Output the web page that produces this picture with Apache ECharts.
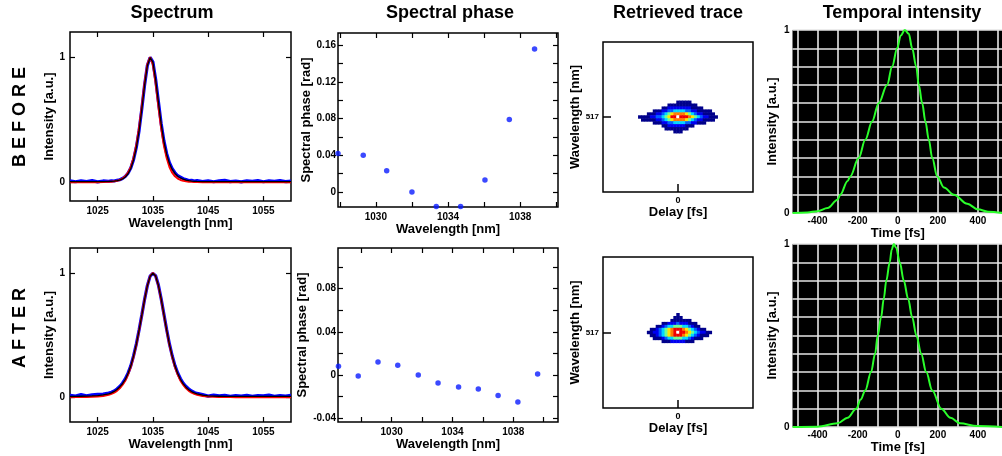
<!DOCTYPE html>
<html><head><meta charset="utf-8">
<script src="https://cdn.jsdelivr.net/npm/echarts@6/dist/echarts.min.js"></script>
<style>html,body{margin:0;padding:0;background:#fff}#c{width:1002px;height:456px}</style>
</head><body><div id="c"></div>
<script>
// ---------------- DATA ----------------
const specWl = [1020,1021,1022,1023,1024,1025,1026,1027,1027.5,1028,1028.5,1029,1029.5,1030,1030.5,1031,1031.5,1032,1032.5,1033,1033.5,1034,1034.5,1035,1035.5,1036,1036.5,1037,1037.5,1038,1038.5,1039,1039.5,1040,1040.5,1041,1041.5,1042,1042.5,1043,1044,1045,1046,1047,1048,1049,1050,1051,1052,1053,1054,1055,1056,1057,1058,1059,1060];
const specRawBefore = [0.012,0.004,0.011,0.006,0.013,0.003,0.01,0.007,0.012,0.01,0.016,0.02,0.03,0.046,0.072,0.113,0.18,0.278,0.412,0.588,0.777,0.932,0.997,0.962,0.823,0.645,0.47,0.33,0.228,0.156,0.108,0.076,0.052,0.04,0.028,0.022,0.014,0.016,0.009,0.013,0.006,0.012,0.004,0.011,0.015,0.005,0.01,0.003,0.012,0.008,0.014,0.004,0.011,0.007,0.013,0.005,0.009];
const specMeasBefore = [0.004,0.004,0.004,0.004,0.004,0.004,0.005,0.006,0.007,0.009,0.012,0.017,0.026,0.042,0.068,0.11,0.178,0.275,0.41,0.585,0.775,0.93,0.995,0.96,0.82,0.64,0.465,0.325,0.222,0.15,0.102,0.07,0.048,0.034,0.024,0.017,0.012,0.009,0.007,0.006,0.005,0.005,0.005,0.005,0.005,0.005,0.005,0.005,0.005,0.005,0.005,0.005,0.005,0.005,0.005,0.005,0.005];
const specFitBefore = [0,0,0,0,0,0,0.001,0.003,0.004,0.007,0.011,0.018,0.029,0.047,0.076,0.121,0.193,0.293,0.433,0.608,0.794,0.942,1.0,0.942,0.794,0.608,0.433,0.293,0.193,0.121,0.076,0.047,0.029,0.018,0.011,0.007,0.004,0.003,0.002,0.001,0,0,0,0,0,0,0,0,0,0,0,0,0,0,0,0,0];
const specRawAfter = [0.015,0.008,0.02,0.01,0.018,0.022,0.025,0.033,0.04,0.05,0.066,0.086,0.112,0.146,0.193,0.252,0.332,0.427,0.54,0.662,0.787,0.897,0.974,0.996,0.977,0.902,0.792,0.667,0.542,0.428,0.333,0.254,0.194,0.148,0.112,0.086,0.066,0.05,0.038,0.03,0.02,0.008,0.016,0.01,0.014,0.006,0.012,0.009,0.015,0.007,0.013,0.01,0.016,0.006,0.012,0.009,0.014];
const specMeasAfter = [0.005,0.006,0.007,0.008,0.01,0.013,0.018,0.027,0.035,0.046,0.061,0.082,0.108,0.142,0.19,0.25,0.33,0.425,0.538,0.66,0.785,0.895,0.972,0.998,0.975,0.9,0.79,0.665,0.54,0.425,0.33,0.25,0.19,0.142,0.107,0.08,0.06,0.045,0.034,0.026,0.016,0.011,0.008,0.007,0.006,0.006,0.006,0.006,0.006,0.006,0.006,0.006,0.006,0.006,0.006,0.006,0.006];
const specFitAfter = [0,0.001,0.001,0.002,0.003,0.005,0.01,0.019,0.027,0.037,0.051,0.071,0.098,0.132,0.181,0.243,0.324,0.42,0.535,0.66,0.786,0.897,0.973,1.0,0.973,0.897,0.786,0.66,0.535,0.42,0.324,0.243,0.181,0.132,0.098,0.071,0.051,0.037,0.027,0.019,0.01,0.005,0.003,0.002,0.001,0.001,0,0,0,0,0,0,0,0,0,0,0];
const specXTicks = [1025,1035,1045,1055];
const specYTicks = [0,1];

const phaseWlBefore = [1027.9,1029.3,1030.6,1032.0,1033.35,1034.7,1036.05,1037.4,1038.8];
const phaseBefore = [0.042,0.040,0.023,0.000,-0.016,-0.016,0.013,0.079,0.156];
const phaseWlAfter = [1026.5,1027.8,1029.1,1030.4,1031.75,1033.05,1034.4,1035.7,1037.0,1038.3,1039.6];
const phaseAfter = [0.008,-0.001,0.012,0.009,0.000,-0.0075,-0.011,-0.013,-0.019,-0.025,0.001];
const phaseXLabels = [1030,1034,1038];
const phaseXTicks = [1028,1030,1032,1034,1036,1038,1040];
const phaseYLabelsBefore = [0,0.04,0.08,0.12,0.16];
const phaseYTicksBefore = [0,0.02,0.04,0.06,0.08,0.1,0.12,0.14,0.16];
const phaseYLabelsAfter = [-0.04,0,0.04,0.08];
const phaseYTicksAfter = [-0.04,-0.02,0,0.02,0.04,0.06,0.08,0.1];

// retrieved FROG traces: intensity level (1..9) per cell, '.' = empty
// rows top->bottom, columns: delay bins -13..+13 around the centre
const traceDelayLabel = '0';
const traceWlLabel = '517';
const traceBeforeTopRow = -5;
const traceBefore = [
 '.............11111.........',
 '..........1111111111.......',
 '........11222222221111.....',
 '.....11122334444332211111..',
 '...11122345677776543221111.',
 '111122334568898887654322111',
 '.1111122345677776543221111.',
 '.....111223344443322111....',
 '........11222222111........',
 '.........11111111..........',
 '............111............'
];
const traceAfterTopRow = -6;
const traceAfter = [
 '.............1.............',
 '............111............',
 '...........1111111.........',
 '........112223222111.......',
 '......112344555443211......',
 '....1123456788876543211....',
 '...1122345678988765432211..',
 '....11234567888765432111...',
 '.....11123445554432111.....',
 '........11122222111........'
];

const tempTimeBefore = [-525,-450,-400,-350,-300,-287,-250,-237,-195,-162,-128,-95,-53,-28,-3,15,35,55,72,92,105,122,138,155,172,197,230,280,347,400,450,525];
const tempIntBefore = [0,0.003,0.01,0.027,0.072,0.1,0.175,0.2,0.3,0.4,0.5,0.6,0.7,0.8,0.9,0.97,1.0,0.98,0.9,0.8,0.7,0.6,0.5,0.4,0.3,0.2,0.14,0.1,0.05,0.02,0.007,0];
const tempTimeAfter = [-525,-400,-300,-250,-207,-185,-162,-133,-113,-100,-83,-70,-57,-40,-30,-20,-8,10,30,52,72,93,117,142,172,217,263,310,397,525];
const tempIntAfter = [0,0.002,0.02,0.05,0.1,0.15,0.2,0.3,0.4,0.5,0.6,0.7,0.8,0.9,0.97,1.0,0.98,0.9,0.8,0.7,0.6,0.5,0.4,0.3,0.2,0.1,0.05,0.02,0.005,0];
const tempXLabels = [-400,-200,0,200,400];
const tempXGrid = [-500,-400,-300,-200,-100,0,100,200,300,400,500];
const tempYLabels = [0,1];

// ---------------- BUILD ----------------
const FONT = '"Liberation Sans", Arial, Helvetica, sans-serif';
const TXT = {color:'#000', fontFamily:FONT, fontWeight:'bold'};
const zip = (xs, ys) => xs.map((x,i)=>[x, ys[i]]);
const bins = Array.from({length:51}, (_,i)=>String(i-25));
const CENTER = 25;
function heat(rows, top){
  const out = [];
  rows.forEach((s,k)=>{
    const r = top + k;
    for (let j=0;j<s.length;j++){
      const ch = s[j];
      if (ch !== '.') out.push([CENTER + (j-13), CENTER - r, +ch]);
    }
  });
  return out;
}
const fmtPhase = v => (Math.abs(v) < 1e-9 ? '0' : v.toFixed(2));

const gridBase = {show:true, borderColor:'#000', borderWidth:1.5, containLabel:false, outerBoundsMode:'none'};
const grids = [
  Object.assign({left:70, top:32, width:221, height:169}, gridBase),
  Object.assign({left:338, top:33, width:220, height:174}, gridBase),
  Object.assign({left:603, top:42, width:150, height:150}, gridBase),
  Object.assign({left:792.5, top:30, width:210.5, height:183}, gridBase, {backgroundColor:'#000', borderWidth:0}),
  Object.assign({left:70, top:248, width:221, height:174}, gridBase),
  Object.assign({left:338, top:248, width:220, height:174}, gridBase),
  Object.assign({left:603, top:257, width:150, height:151}, gridBase),
  Object.assign({left:792.5, top:244, width:210.5, height:183}, gridBase, {backgroundColor:'#000', borderWidth:0})
];

const tickStyle = {color:'#000', width:1.2};
const noLine = {show:false, onZero:false};
function vAxis(o){
  return Object.assign({type:'value', axisLine:noLine, splitLine:{show:false}}, o);
}
function boxedX(gi, min, max, labels, ticks, fmt){
  return [
    vAxis({gridIndex:gi, min, max, position:'bottom',
      axisTick:{show:true, inside:true, length:5, customValues:ticks, lineStyle:tickStyle},
      axisLabel:Object.assign({customValues:labels, margin:5, fontSize:10, formatter:fmt}, TXT),
      name:'Wavelength [nm]', nameLocation:'middle', nameGap:15,
      nameTextStyle:Object.assign({fontSize:13}, TXT)}),
    vAxis({gridIndex:gi, min, max, position:'top',
      axisTick:{show:true, inside:true, length:5, customValues:ticks, lineStyle:tickStyle},
      axisLabel:{show:false}})
  ];
}
function boxedY(gi, min, max, labels, ticks, fmt, name, gap, margin){
  return [
    vAxis({gridIndex:gi, min, max, position:'left',
      axisTick:{show:true, inside:true, length:5, customValues:ticks, lineStyle:tickStyle},
      axisLabel:Object.assign({customValues:labels, margin:margin, fontSize:10, formatter:fmt}, TXT),
      name:name, nameLocation:'middle', nameGap:gap,
      nameTextStyle:Object.assign({fontSize:13}, TXT)}),
    vAxis({gridIndex:gi, min, max, position:'right',
      axisTick:{show:true, inside:true, length:5, customValues:ticks, lineStyle:tickStyle},
      axisLabel:{show:false}})
  ];
}
function traceX(gi){
  return {type:'category', gridIndex:gi, data:bins, axisLine:noLine, splitLine:{show:false},
    axisTick:{show:true, inside:true, length:8, alignWithLabel:true, interval:(i)=>i===CENTER, lineStyle:{color:'#000', width:1.5}},
    axisLabel:Object.assign({interval:(i)=>i===CENTER, formatter:()=>traceDelayLabel, margin:4, fontSize:9}, TXT),
    name:'Delay [fs]', nameLocation:'middle', nameGap:14, nameTextStyle:Object.assign({fontSize:13}, TXT)};
}
function traceY(gi){
  return {type:'category', gridIndex:gi, data:bins, axisLine:noLine, splitLine:{show:false},
    axisTick:{show:true, inside:true, length:8, alignWithLabel:true, interval:(i)=>i===CENTER, lineStyle:{color:'#000', width:1.5}},
    axisLabel:Object.assign({interval:(i)=>i===CENTER, formatter:()=>traceWlLabel, margin:4, fontSize:8}, TXT),
    name:'Wavelength [nm]', nameLocation:'middle', nameGap:21, nameTextStyle:Object.assign({fontSize:13}, TXT)};
}
const whiteLine = {show:true, lineStyle:{color:'#e6e6e6', width:1.6}};
function tempX(gi){
  return vAxis({gridIndex:gi, min:-525, max:525,
    axisTick:{show:false, customValues:tempXGrid}, splitLine:whiteLine,
    axisLabel:Object.assign({customValues:tempXLabels, margin:3, fontSize:10}, TXT),
    name:'Time [fs]', nameLocation:'middle', nameGap:14, nameTextStyle:Object.assign({fontSize:13}, TXT)});
}
function tempY(gi){
  return vAxis({gridIndex:gi, min:0, max:1, interval:0.1,
    axisTick:{show:false}, splitLine:whiteLine,
    axisLabel:Object.assign({customValues:tempYLabels, margin:3, fontSize:10}, TXT),
    name:'Intensity [a.u.]', nameLocation:'middle', nameGap:14, nameTextStyle:Object.assign({fontSize:13}, TXT)});
}

const specFmt = v => String(v);
const xAxes = [
  ...boxedX(0, 1020, 1060, specXTicks, specXTicks, specFmt),          // 0,1
  ...boxedX(1, 1027.9, 1040.1, phaseXLabels, phaseXTicks, specFmt),   // 2,3
  traceX(2),                                                           // 4
  tempX(3),                                                            // 5
  ...boxedX(4, 1020, 1060, specXTicks, specXTicks, specFmt),          // 6,7
  ...boxedX(5, 1026.47, 1040.94, phaseXLabels, phaseXTicks, specFmt), // 8,9
  traceX(6),                                                           // 10
  tempX(7)                                                             // 11
];
const yAxes = [
  ...boxedY(0, -0.15, 1.2, specYTicks, specYTicks, specFmt, 'Intensity [a.u.]', 13, 5),
  ...boxedY(1, -0.0165, 0.1735, phaseYLabelsBefore, phaseYTicksBefore, fmtPhase, 'Spectral phase [rad]', 24, 2),
  traceY(2),
  tempY(3),
  ...boxedY(4, -0.2, 1.2, specYTicks, specYTicks, specFmt, 'Intensity [a.u.]', 13, 5),
  ...boxedY(5, -0.0435, 0.1175, phaseYLabelsAfter, phaseYTicksAfter, fmtPhase, 'Spectral phase [rad]', 24, 2),
  traceY(6),
  tempY(7)
];

function specSeries(xi, yi, raw, fit, meas){
  const base = {type:'line', xAxisIndex:xi, yAxisIndex:yi, showSymbol:false, symbol:'none', silent:true};
  return [
    Object.assign({}, base, {data:zip(specWl, raw), lineStyle:{color:'#0000ff', width:3.2}, itemStyle:{color:'#0000ff'}, z:2}),
    Object.assign({}, base, {data:zip(specWl, fit), lineStyle:{color:'#ff0000', width:2}, itemStyle:{color:'#ff0000'}, z:3}),
    Object.assign({}, base, {data:zip(specWl, meas), lineStyle:{color:'#000000', width:1.3}, itemStyle:{color:'#000'}, z:4})
  ];
}
function phaseSeries(xi, yi, xs, ys){
  return {type:'scatter', xAxisIndex:xi, yAxisIndex:yi, data:zip(xs, ys), symbolSize:5.5, itemStyle:{color:'#0a1cff'}, silent:true};
}
function heatSeries(xi, yi, rows, top){
  return {type:'heatmap', xAxisIndex:xi, yAxisIndex:yi, data:heat(rows, top), silent:true, itemStyle:{borderWidth:0}};
}
function tempSeries(xi, yi, xs, ys){
  return {type:'line', xAxisIndex:xi, yAxisIndex:yi, data:zip(xs, ys), smooth:0.35, smoothMonotone:'x', showSymbol:false, symbol:'none',
    lineStyle:{color:'#2bff2b', width:2}, itemStyle:{color:'#2bff2b'}, silent:true};
}

const series = [
  ...specSeries(0, 0, specRawBefore, specFitBefore, specMeasBefore), // 0,1,2
  phaseSeries(2, 2, phaseWlBefore, phaseBefore),                     // 3
  heatSeries(4, 4, traceBefore, traceBeforeTopRow),                  // 4
  tempSeries(5, 5, tempTimeBefore, tempIntBefore),                   // 5
  ...specSeries(6, 6, specRawAfter, specFitAfter, specMeasAfter),    // 6,7,8
  phaseSeries(8, 8, phaseWlAfter, phaseAfter),                       // 9
  heatSeries(10, 10, traceAfter, traceAfterTopRow),                  // 10
  tempSeries(11, 11, tempTimeAfter, tempIntAfter)                    // 11
];

const jet = ['#00008b','#0000f0','#0060ff','#00d8ff','#70ff90','#ffe600','#ff7a00','#f00000','#ffffff'];
const visualMap = {type:'piecewise', show:false, seriesIndex:[4,10], dimension:2,
  pieces: jet.map((c,i)=>({value:i+1, color:c}))};

function gtext(text, x, y, size, rot){
  return {type:'text', x:x, y:y, rotation:rot||0, silent:true,
    style:{text:text, x:0, y:0, fill:'#000', font:'bold '+size+'px '+FONT,
      textAlign:'center', textVerticalAlign:'middle', align:'center', verticalAlign:'middle'}};
}
const graphic = [
  gtext('Spectrum', 172, 13, 18),
  gtext('Spectral phase', 450, 13, 18),
  gtext('Retrieved trace', 678, 13, 18),
  gtext('Temporal intensity', 902, 13, 18),
  gtext('B E F O R E', 20.5, 117, 18, Math.PI/2),
  gtext('A F T E R', 20.5, 328, 18, Math.PI/2)
];

const chart = echarts.init(document.getElementById('c'), null, {renderer:'canvas'});
chart.setOption({
  animation:false,
  backgroundColor:'#fff',
  textStyle:{fontFamily:FONT},
  grid:grids, xAxis:xAxes, yAxis:yAxes, series:series, visualMap:visualMap, graphic:graphic
});
</script></body></html>
